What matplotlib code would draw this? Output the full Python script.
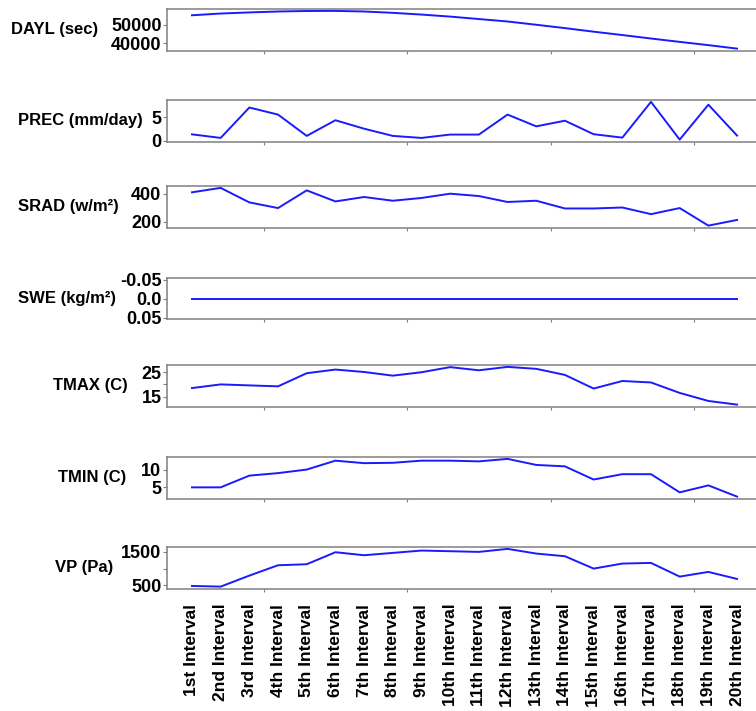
import matplotlib
matplotlib.use('Agg')
import matplotlib.pyplot as plt
import numpy as np

plt.rcParams['font.family'] = ['Liberation Sans', 'DejaVu Sans']
plt.rcParams['font.weight'] = 'bold'

# Interval labels on the shared x axis
intervals = ['1st', '2nd', '3rd', '4th', '5th', '6th', '7th', '8th', '9th', '10th',
             '11th', '12th', '13th', '14th', '15th', '16th', '17th', '18th', '19th', '20th']
tick_labels = [f'{s} Interval' for s in intervals]

# Series values
dayl = [55080, 56010, 56610, 57100, 57370, 57430, 57100, 56390, 55460, 54370,
        53060, 51750, 50000, 48200, 46290, 44490, 42630, 40830, 39080, 37220]
prec = [1.4, 0.64, 7.1, 5.6, 1.07, 4.4, 2.6, 1.07, 0.64, 1.35,
        1.35, 5.6, 3.1, 4.3, 1.43, 0.7, 8.3, 0.28, 7.7, 1.14]
srad = [412, 444, 339, 298, 426, 346, 378, 351, 371, 402,
        385, 342, 351, 295, 295, 302, 254, 298, 171, 212]
swe = [0.0] * 20
tmax = [18.5, 20.0, 19.6, 19.2, 24.6, 26.1, 25.1, 23.6, 25.0, 27.1,
        25.8, 27.2, 26.4, 23.9, 18.3, 21.4, 20.8, 16.5, 13.2, 11.7]
tmin = [5.0, 5.0, 8.3, 9.0, 10.0, 12.5, 11.8, 11.9, 12.5, 12.5,
        12.3, 13.0, 11.3, 10.9, 7.2, 8.7, 8.7, 3.6, 5.55, 2.4]
vp = [480, 460, 790, 1100, 1130, 1490, 1400, 1470, 1540, 1520,
      1500, 1590, 1450, 1370, 1000, 1150, 1170, 760, 900, 690]

series = [dayl, prec, srad, swe, tmax, tmin, vp]
ylabels = ['DAYL (sec)', 'PREC (mm/day)', 'SRAD (w/m²)', 'SWE (kg/m²)',
           'TMAX (C)', 'TMIN (C)', 'VP (Pa)']
yticks = [[40000, 50000], [0, 5], [200, 400], [-0.05, 0.0, 0.05],
          [15, 20, 25], [5, 10], [500, 1000, 1500]]
yticklabels = [['40000', '50000'], ['0', '5'], ['200', '400'], ['-0.05', '0.0', '0.05'],
               ['15', '', '25'], ['5', '10'], ['500', '', '1500']]

# Panel positions (pixels from top in a 756x711 figure)
W, H = 756, 711
panel_top = [9, 100, 186, 278, 365, 457, 547]
panel_h = 41.5
left_px = 167
labelpads = [9, 6, 9, 3, 10, 11, 6]

fig = plt.figure(figsize=(W / 100, H / 100), dpi=100)
x = np.arange(len(intervals))

for i, (vals, lab) in enumerate(zip(series, ylabels)):
    ax = fig.add_axes([left_px / W, 1 - (panel_top[i] + panel_h) / H,
                       1 - left_px / W, panel_h / H])
    ax.plot(x, vals, color='#1a1aff', lw=1.4)
    ax.set_xlim(-0.87, 19.66)
    if i == 3:
        ax.set_ylim(0.055, -0.055)
    for side in ['top', 'bottom', 'left']:
        ax.spines[side].set_color('#808080')
        ax.spines[side].set_linewidth(1.1)
    ax.spines['right'].set_visible(False)
    ax.set_yticks(yticks[i])
    ax.set_yticklabels(yticklabels[i], fontsize=13, fontweight='bold')
    ax.tick_params(axis='y', length=3, width=0.8, color='#808080', pad=1)
    ax.set_xticks(x)
    ax.set_xticks(np.arange(0, 19, 2.5), minor=True)
    ax.tick_params(axis='x', which='major', length=0)
    ax.tick_params(axis='x', which='minor', length=2, width=0.8, color='#808080')
    if i == len(series) - 1:
        ax.set_xticklabels(tick_labels, rotation=90, fontsize=12.5, fontweight='bold')
        ax.tick_params(axis='x', which='major', pad=11)
    else:
        ax.set_xticklabels([])
    ax.set_ylabel(lab, rotation=0, ha='right', va='center', fontsize=12,
                  fontweight='bold', labelpad=labelpads[i])

fig.savefig('out.png', dpi=100)
